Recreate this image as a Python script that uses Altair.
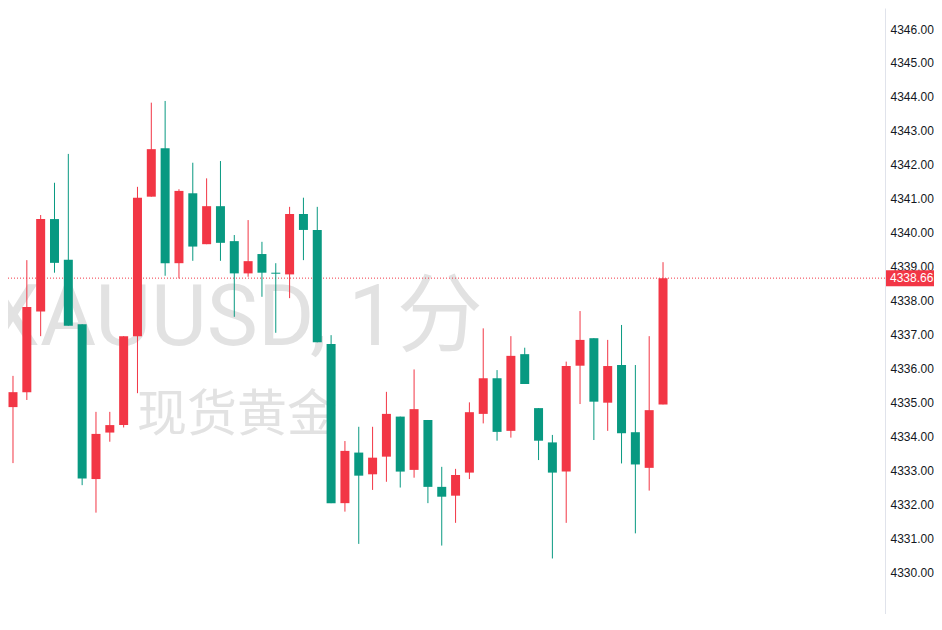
import altair as alt
import numpy as np
import pandas as pd

# ---- data (1-minute XAUUSD candles) ----
opens = [4327.70, 4334.86, 4335.30, 4337.68, 4340.40, 4339.20, 4337.30, 4332.74, 4334.11, 4334.33,
         4336.95, 4341.06, 4342.49, 4339.10, 4341.16, 4339.66, 4340.78, 4339.75, 4338.80, 4339.37,
         4338.82, 4338.77, 4340.55, 4340.08, 4336.72, 4332.03, 4333.52, 4332.88, 4333.40, 4334.58,
         4333.01, 4334.48, 4332.51, 4332.25, 4332.93, 4334.66, 4335.71, 4334.16, 4336.42, 4334.83,
         4333.82, 4332.96, 4336.08, 4336.89, 4334.99, 4336.10, 4334.12, 4333.07, 4334.94]
highs = [4334.86, 4335.78, 4339.19, 4340.52, 4341.47, 4342.32, 4337.30, 4334.72, 4334.72, 4336.95,
         4341.35, 4343.83, 4343.88, 4341.28, 4342.06, 4341.60, 4342.11, 4339.93, 4340.37, 4339.73,
         4339.10, 4340.76, 4341.03, 4340.76, 4336.98, 4333.86, 4334.28, 4334.28, 4335.31, 4334.58,
         4335.97, 4334.48, 4333.10, 4333.04, 4335.00, 4337.18, 4335.95, 4336.95, 4336.61, 4334.83,
         4334.04, 4336.20, 4337.69, 4336.89, 4336.84, 4337.28, 4336.10, 4336.95, 4339.13]
lows = [4327.50, 4333.21, 4335.07, 4336.95, 4338.82, 4337.26, 4332.56, 4331.75, 4333.84, 4334.26,
        4335.27, 4341.06, 4338.73, 4338.65, 4339.17, 4339.66, 4339.17, 4337.52, 4338.70, 4338.11,
        4337.05, 4338.07, 4339.19, 4336.77, 4332.03, 4331.78, 4330.83, 4332.42, 4332.66, 4332.49,
        4332.78, 4332.03, 4330.78, 4331.45, 4332.74, 4334.38, 4333.87, 4333.96, 4335.54, 4333.30,
        4330.40, 4331.45, 4334.95, 4333.89, 4334.16, 4333.20, 4331.14, 4332.40, 4334.94]
closes = [4334.86, 4335.30, 4337.81, 4340.40, 4339.11, 4337.26, 4332.76, 4334.07, 4334.33, 4336.95,
          4341.03, 4342.46, 4339.10, 4341.23, 4339.59, 4340.78, 4339.70, 4338.80, 4339.16, 4338.82,
          4338.79, 4340.55, 4340.08, 4336.77, 4332.03, 4333.57, 4332.84, 4333.37, 4334.66, 4332.96,
          4334.80, 4332.51, 4332.22, 4332.86, 4334.71, 4335.71, 4334.13, 4336.37, 4335.54, 4333.87,
          4332.93, 4336.07, 4336.84, 4335.02, 4336.07, 4334.09, 4333.17, 4334.77, 4338.66]
last_price = 4338.66
y_ticks = [4330, 4331, 4332, 4333, 4334, 4335, 4336, 4337, 4338, 4339,
           4340, 4341, 4342, 4343, 4344, 4345, 4346]
watermark_main = "XAUUSD, 1分"
watermark_sub = "现货黄金"

RED = "#f23645"
GREEN = "#089981"

df = pd.DataFrame({
    "i": np.arange(len(opens)),
    "open": opens,
    "high": highs,
    "low": lows,
    "close": closes,
})
df["dir"] = np.where(df["close"] >= df["open"], "up", "down")

x_scale = alt.Scale(domain=[0.6385, 64.05], nice=False, zero=False, padding=0)
y_scale = alt.Scale(domain=[4328.764, 4346.619], nice=False, zero=False, padding=0)
y_axis = alt.Axis(orient="right", values=y_ticks, format=".2f", title=None, ticks=False,
                  grid=False, labelPadding=5, labelFont="Liberation Sans", labelFontSize=12,
                  labelColor="#131722", domainColor="#e0e3eb", labelOverlap=False)
color = alt.Color("dir:N", scale=alt.Scale(domain=["up", "down"], range=[RED, GREEN]), legend=None)

wm1 = alt.Chart(pd.DataFrame({"t": [watermark_main]})).mark_text(
    align="left", baseline="alphabetic", fontSize=86, font="Roboto, 'Noto Sans CJK SC'",
    color="#e2e2e2"
).encode(text="t:N", x=alt.value(-22), y=alt.value(337))

wm2 = alt.Chart(pd.DataFrame({"t": [watermark_sub]})).mark_text(
    align="left", baseline="alphabetic", fontSize=50, font="Noto Sans CJK SC",
    color="#e2e2e2"
).encode(text="t:N", x=alt.value(129), y=alt.value(423))

price_df = pd.DataFrame({"p": [last_price], "label": [f"{last_price:.2f}"]})

price_line = alt.Chart(price_df).mark_rule(color=RED, strokeDash=[1, 2], strokeWidth=1).encode(
    y=alt.Y("p:Q", scale=y_scale, axis=y_axis)
)

base = alt.Chart(df).encode(x=alt.X("i:Q", scale=x_scale, axis=None))

wicks = base.mark_rule(strokeWidth=1, clip=True).encode(
    y=alt.Y("low:Q", scale=y_scale, axis=y_axis), y2="high:Q", color=color
)
bodies = base.mark_bar(size=9, clip=True).encode(
    y=alt.Y("open:Q", scale=y_scale, axis=y_axis), y2="close:Q", color=color
)

price_box = alt.Chart(price_df).mark_tick(orient="horizontal", thickness=16, color=RED, opacity=1).encode(
    y=alt.Y("p:Q", scale=y_scale, axis=y_axis), x=alt.value(902), size=alt.value(48)
)
price_text = alt.Chart(price_df).mark_text(
    align="left", baseline="middle", color="white", fontSize=12, font="Liberation Sans"
).encode(y=alt.Y("p:Q", scale=y_scale, axis=y_axis), x=alt.value(882), text="label:N")

chart = alt.layer(wm1, wm2, price_line, wicks, bodies, price_box, price_text).properties(
    width=877, height=606,
    autosize=alt.AutoSizeParams(type="none"),
    padding={"left": 0, "top": 0, "right": 49, "bottom": 0},
    background="white",
).configure_view(strokeWidth=0)

chart.save("out.html", embed_options={"renderer": "svg", "actions": False})
